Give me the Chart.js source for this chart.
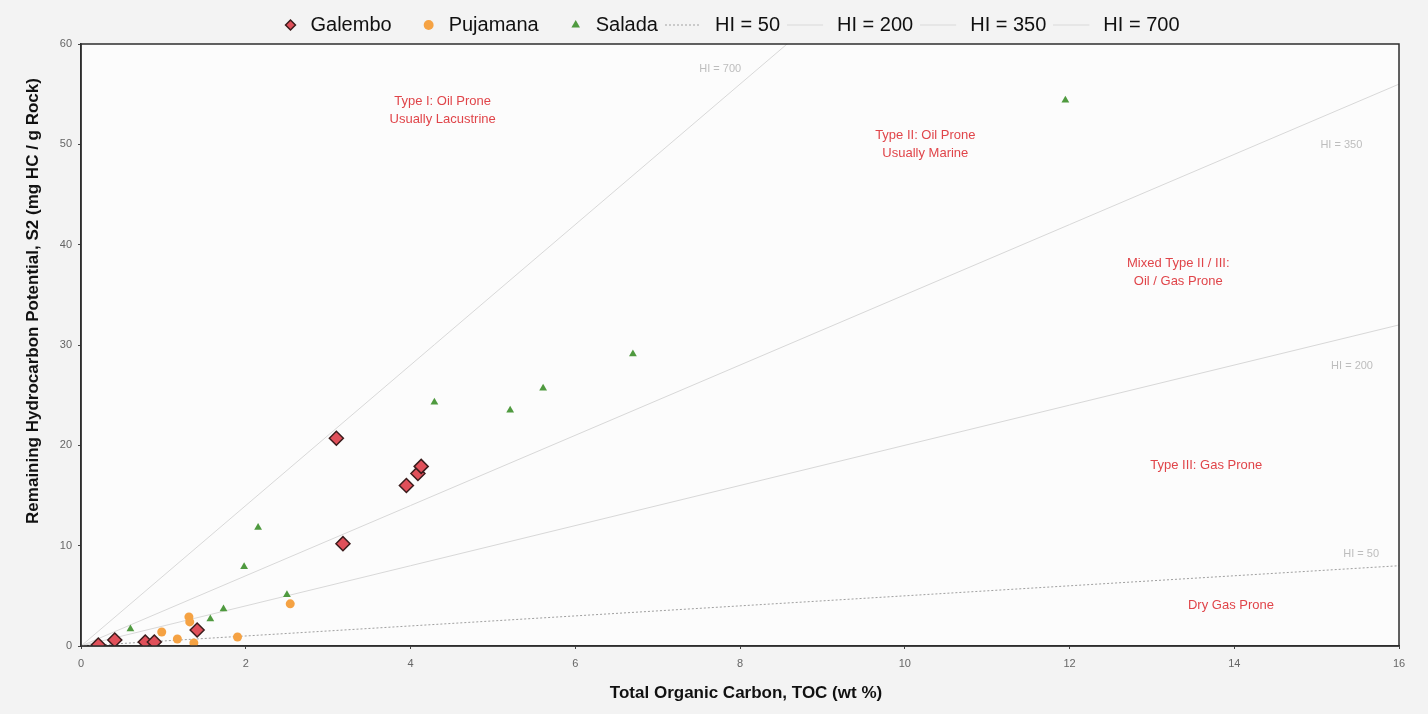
<!DOCTYPE html>
<html>
<head>
<meta charset="utf-8">
<script src="https://cdn.jsdelivr.net/npm/chart.js@4"></script>
<style>
  html, body { margin: 0; padding: 0; background: #f3f3f3; }
  #wrap { width: 1428px; height: 714px; }
</style>
</head>
<body>
<div id="wrap"><canvas id="graph" width="1428" height="714"></canvas></div>
<script>
// sample data, TOC (wt %) and S2 (mg HC / g rock)
var galemboToc = [0.21, 0.41, 0.78, 0.89, 1.41, 3.10, 3.18, 3.95, 4.09, 4.13];
var galemboS2  = [0.1, 0.6, 0.4, 0.4, 1.6, 20.7, 10.2, 16.0, 17.2, 17.9];

var pujamanaToc = [0.23, 0.83, 0.98, 1.17, 1.31, 1.32, 1.37, 1.90, 2.54];
var pujamanaS2  = [0.0, 0.1, 1.4, 0.7, 2.9, 2.4, 0.3, 0.9, 4.2];

var saladaToc = [0.25, 0.40, 0.60, 1.57, 1.73, 1.98, 2.15, 2.50, 4.29, 5.21, 5.61, 6.70, 11.95];
var saladaS2  = [0.0, 0.7, 1.7, 2.7, 3.7, 7.9, 11.8, 5.1, 24.3, 23.5, 25.7, 29.1, 54.4];

// hydrogen index reference lines (S2 = HI * TOC / 100)
var hiValues = [50, 200, 350, 700];
var hiLineToc = [0, 16];

// line labels and kerogen type zones (text, TOC, S2)
var hiLabelToc = [15.54, 15.43, 15.30, 7.76];
var hiLabelS2  = [9.2, 27.9, 49.9, 57.5];

var zoneText = [["Type I: Oil Prone", "Usually Lacustrine"],
                ["Type II: Oil Prone", "Usually Marine"],
                ["Mixed Type II / III:", "Oil / Gas Prone"],
                ["Type III: Gas Prone"],
                ["Dry Gas Prone"]];
var zoneToc = [4.39, 10.25, 13.32, 13.66, 13.96];
var zoneS2  = [54.3, 50.9, 38.1, 18.0, 4.0];

var xTicks = [0, 2, 4, 6, 8, 10, 12, 14, 16];
var yTicks = [0, 10, 20, 30, 40, 50, 60];

var toPoints = function(xs, ys){
  return xs.map(function(x, i){ return {x: x, y: ys[i]}; });
};

// small canvas used as legend sample for the HI lines (line sits left of the box centre)
var lineSample = function(color, dash){
  var c = document.createElement('canvas');
  c.width = 60; c.height = 3;
  var g = c.getContext('2d');
  g.strokeStyle = color;
  g.lineWidth = 1;
  g.setLineDash(dash);
  g.beginPath(); g.moveTo(0, 1.5); g.lineTo(36, 1.5); g.stroke();
  return c;
};

//shift where an axis title is painted, without touching the axis itself
var shiftTitle = function(dx, dy){
  return function(s){
    if (s._shifted) return;
    var draw = s.drawTitle;
    s.drawTitle = function(){
      this.ctx.save();
      this.ctx.translate(dx, dy);
      draw.apply(this, arguments);
      this.ctx.restore();
    };
    s._shifted = true;
  };
};

var hiStyles = [
  {color: "#a0a0a0", dash: [2, 2]},
  {color: "#d8d8d8", dash: []},
  {color: "#d8d8d8", dash: []},
  {color: "#d8d8d8", dash: []}
];

var datasets = [
  {
    label: "Galembo", type: "scatter", data: toPoints(galemboToc, galemboS2),
    pointStyle: "rectRot", pointRadius: 7, pointHoverRadius: 7,
    backgroundColor: "#e0505a", borderColor: "#3b1c1c", borderWidth: 1.5, order: 1
  },
  {
    label: "Pujamana", type: "scatter", data: toPoints(pujamanaToc, pujamanaS2),
    pointStyle: "circle", pointRadius: 4.5, pointHoverRadius: 4.5,
    backgroundColor: "#f5a243", borderColor: "#f5a243", borderWidth: 0, order: 2
  },
  {
    label: "Salada", type: "scatter", data: toPoints(saladaToc, saladaS2),
    pointStyle: "triangle", pointRadius: 4.5, pointHoverRadius: 4.5,
    backgroundColor: "#4f9a3f", borderColor: "#4f9a3f", borderWidth: 0, order: 3
  }
];

hiValues.forEach(function(hi, i){
  datasets.push({
    label: "HI = " + hi, type: "line",
    data: hiLineToc.map(function(t){ return {x: t, y: hi * t / 100}; }),
    borderColor: hiStyles[i].color, borderWidth: 1, borderDash: hiStyles[i].dash,
    pointRadius: 0, pointHoverRadius: 0, fill: false, tension: 0,
    pointStyle: lineSample(hiStyles[i].color, hiStyles[i].dash), order: 10
  });
});

//white plot background + frame around it, legend nudged into place
var plotFrame = {
  id: "plotFrame",
  beforeInit: function(chart){
    var fit = chart.legend.fit;
    chart.legend.fit = function(){ fit.call(this); this.height = 44; };
  },
  afterLayout: function(chart){
    chart.legend.top = -12;
    chart.legend.right = chart.width;
  },
  beforeDraw: function(chart){
    var a = chart.chartArea, ctx = chart.ctx;
    ctx.save();
    ctx.fillStyle = "#fcfcfc";
    ctx.fillRect(a.left, a.top, a.right - a.left, a.bottom - a.top);
    ctx.restore();
  },
  afterDatasetsDraw: function(chart){
    var a = chart.chartArea, ctx = chart.ctx;
    var xs = chart.scales.x, ys = chart.scales.y;
    ctx.save();
    ctx.textAlign = "center";
    ctx.textBaseline = "middle";
    // HI labels
    ctx.fillStyle = "#bdbdbd";
    ctx.font = "11px 'Liberation Sans', Arial, sans-serif";
    hiValues.forEach(function(hi, i){
      ctx.fillText("HI = " + hi, xs.getPixelForValue(hiLabelToc[i]), ys.getPixelForValue(hiLabelS2[i]));
    });
    // kerogen zones
    ctx.fillStyle = "#e0454a";
    ctx.font = "13px 'Liberation Sans', Arial, sans-serif";
    zoneText.forEach(function(lines, i){
      var px = xs.getPixelForValue(zoneToc[i]);
      var py = ys.getPixelForValue(zoneS2[i]);
      lines.forEach(function(t, j){ ctx.fillText(t, px, py + j * 18); });
    });
    // frame
    ctx.strokeStyle = "#2e2e2e";
    ctx.lineWidth = 1.5;
    ctx.strokeRect(a.left, a.top, a.right - a.left, a.bottom - a.top);
    ctx.restore();
  }
};

var tickFont = {family: "'Liberation Sans Narrow', 'Liberation Sans', Arial, sans-serif", size: 11};
var titleFont = {family: "'Liberation Sans', Arial, sans-serif", size: 17, weight: "bold"};

var chart = new Chart(document.getElementById('graph').getContext('2d'), {
  type: "scatter",
  data: {datasets: datasets},
  options: {
    responsive: false,
    animation: false,
    layout: {padding: {left: 32, right: 29, top: 0, bottom: 0}},
    plugins: {
      tooltip: {enabled: false},
      legend: {
        position: "top",
        labels: {
          usePointStyle: true,
          boxWidth: 20,
          boxHeight: 7,
          padding: 27,
          color: "#111",
          font: {family: "'Liberation Sans', Arial, sans-serif", size: 20}
        }
      }
    },
    scales: {
      x: {
        type: "linear", min: 0, max: 16,
        afterFit: function(s){ s.height = 68; shiftTitle(6, -6)(s); },
        afterBuildTicks: function(s){ s.ticks = xTicks.map(function(v){ return {value: v}; }); },
        grid: {display: true, drawOnChartArea: false, drawTicks: true, tickLength: 3, color: "#444"},
        border: {display: true, color: "#2e2e2e", width: 1.5},
        ticks: {color: "#666", font: tickFont, padding: 8},
        title: {display: true, text: "Total Organic Carbon, TOC (wt %)", color: "#111",
                font: titleFont, padding: {top: 6}}
      },
      y: {
        type: "linear", min: 0, max: 60,
        afterFit: function(s){ s.width = 49; shiftTitle(0, -44)(s); },
        afterBuildTicks: function(s){ s.ticks = yTicks.map(function(v){ return {value: v}; }); },
        grid: {display: true, drawOnChartArea: false, drawTicks: true, tickLength: 3, color: "#444"},
        border: {display: true, color: "#2e2e2e", width: 1.5},
        ticks: {color: "#666", font: tickFont, padding: 6},
        title: {display: true, text: "Remaining Hydrocarbon Potential, S2 (mg HC / g Rock)", color: "#111",
                font: titleFont, padding: {top: -9, bottom: 0}}
      }
    }
  },
  plugins: [plotFrame]
});
</script>
</body>
</html>
